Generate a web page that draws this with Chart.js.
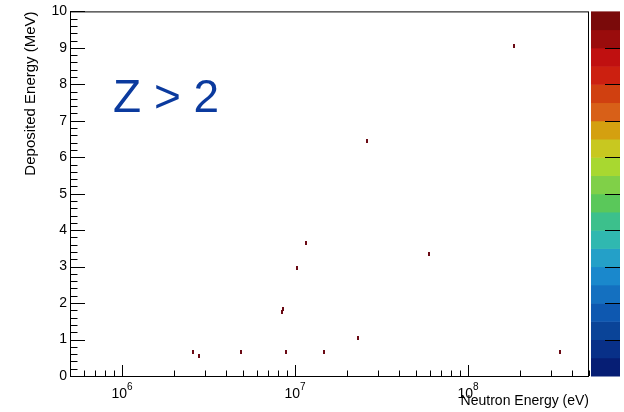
<!DOCTYPE html>
<html>
<head>
<meta charset="utf-8">
<script src="https://cdn.jsdelivr.net/npm/chart.js@4.4.1/dist/chart.umd.min.js"></script>
<style>
  body { margin: 0; background: #fff; }
  canvas { display: block; }
</style>
</head>
<body>
<canvas id="grafico" width="624" height="412"></canvas>
<script>
// eventos Z > 2: energia del neutron (eV) y energia depositada (MeV)
const energiaNeutron = [1.85e8, 2.6e7, 1.16e7, 1.03e7, 5.97e7, 8.36e6, 8.5e6, 2.32e7, 2.57e6, 2.77e6, 4.89e6, 8.89e6, 1.47e7, 3.4e8]
const energiaDepositada = [9.05, 6.45, 3.65, 2.95, 3.35, 1.75, 1.85, 1.05, 0.65, 0.55, 0.65, 0.65, 0.65, 0.65]
const ticksY = [0, 1, 2, 3, 4, 5, 6, 7, 8, 9, 10]
const decadasX = [6, 7, 8]
const rangoX = [5e5, 5e8]
const rangoY = [0, 10]

// paleta de abajo (azul) hacia arriba (rojo)
const paleta = ['#061e74', '#083088', '#0a4498', '#0e58b0', '#1470c0', '#1a88cc', '#24a0c8', '#30b8b0', '#3cc08c', '#5ac85a',
                '#80d048', '#a8d830', '#c8c820', '#d4a010', '#d86018', '#d04010', '#cc2010', '#c01010', '#9a0c0c', '#7a0a0a']

const fuente = 'Liberation Sans, Arial, sans-serif'
const colorPunto = '#6a0a14'

// marcador rectangular de un bin
const marcador = document.createElement('canvas')
marcador.width = 2
marcador.height = 4
const mctx = marcador.getContext('2d')
mctx.fillStyle = colorPunto
mctx.fillRect(0, 0, 2, 4)

const puntos = energiaNeutron.map((x, i) => ({x: x, y: energiaDepositada[i]}))

const ejesRoot = {
    id: 'ejesRoot',
    afterDraw(chart) {
        const {ctx, chartArea: a, scales: {x, y}} = chart
        ctx.save()
        ctx.strokeStyle = '#000'
        ctx.lineWidth = 1

        // marco
        ctx.strokeRect(a.left + 0.5, a.top + 0.5, a.right - a.left - 1, a.bottom - a.top)

        // ticks eje Y hacia adentro
        ctx.beginPath()
        for (let i = 0; i <= 50; i++) {
            const v = rangoY[0] + i * 0.2
            const py = Math.round(y.getPixelForValue(v)) + 0.5
            ctx.moveTo(a.left, py)
            ctx.lineTo(a.left + (i % 5 == 0 ? 15 : 7.5), py)
        }
        // ticks eje X (log)
        for (let d = 5; d <= 8; d++) {
            for (let k = 1; k <= 9; k++) {
                const v = k * Math.pow(10, d)
                if (v < rangoX[0] || v > rangoX[1]) continue
                const px = Math.round(x.getPixelForValue(v)) + 0.5
                ctx.moveTo(px, a.bottom)
                ctx.lineTo(px, a.bottom - (k == 1 ? 11 : 5.5))
            }
        }
        ctx.stroke()

        // etiquetas 10^n
        ctx.fillStyle = '#000'
        ctx.textBaseline = 'alphabetic'
        decadasX.forEach(n => {
            const px = x.getPixelForValue(Math.pow(10, n))
            ctx.font = '14px ' + fuente
            const w1 = ctx.measureText('10').width
            ctx.font = '10px ' + fuente
            const w2 = ctx.measureText(String(n)).width
            const inicio = px - (w1 + w2) / 2
            ctx.font = '14px ' + fuente
            ctx.fillText('10', inicio, 398)
            ctx.font = '10px ' + fuente
            ctx.fillText(String(n), inicio + w1, 390)
        })

        // barra de colores
        const x0 = 591, x1 = 620
        const alto = (a.bottom - a.top) / paleta.length
        paleta.forEach((c, i) => {
            ctx.fillStyle = c
            const y1 = a.bottom - i * alto
            ctx.fillRect(x0, y1 - alto, x1 - x0, alto + 0.5)
        })
        ctx.beginPath()
        for (let i = 2; i < paleta.length; i += 2) {
            const py = Math.round(a.bottom - i * alto) + 0.5
            ctx.moveTo(x1, py)
            ctx.lineTo(x1 - 15, py)
        }
        ctx.stroke()

        // texto del corte
        ctx.fillStyle = '#0b3a9e'
        ctx.font = '46px ' + fuente
        ctx.fillText('Z > 2', 113, 112)
        ctx.restore()
    }
}

const contexto = document.getElementById('grafico').getContext('2d')
const grafico = new Chart(contexto, {
    type: 'scatter',
    data: {
        datasets: [{
            data: puntos,
            pointStyle: marcador,
            backgroundColor: colorPunto,
            borderWidth: 0
        }]
    },
    plugins: [ejesRoot],
    options: {
        responsive: false,
        animation: false,
        layout: {padding: {top: 9, right: 35, left: 0, bottom: 0}},
        plugins: {
            legend: {display: false},
            tooltip: {enabled: false}
        },
        scales: {
            x: {
                type: 'logarithmic',
                min: rangoX[0],
                max: rangoX[1],
                grid: {display: false, drawTicks: false},
                border: {display: false},
                ticks: {display: false},
                title: {
                    display: true,
                    text: 'Neutron Energy (eV)',
                    align: 'end',
                    color: '#000',
                    font: {family: fuente, size: 14},
                    padding: {top: 0, bottom: 2}
                },
                afterFit: s => { s.height = 36 }
            },
            y: {
                min: rangoY[0],
                max: rangoY[1],
                grid: {display: false, drawTicks: false},
                border: {display: false},
                afterBuildTicks: s => { s.ticks = ticksY.map(v => ({value: v})) },
                ticks: {
                    color: '#000',
                    font: {family: fuente, size: 14},
                    padding: 3
                },
                title: {
                    display: true,
                    text: 'Deposited Energy (MeV)',
                    align: 'end',
                    color: '#000',
                    font: {family: fuente, size: 15},
                    padding: {top: 22, bottom: 0}
                },
                afterFit: s => { s.width = 70 }
            }
        }
    }
})
</script>
</body>
</html>
